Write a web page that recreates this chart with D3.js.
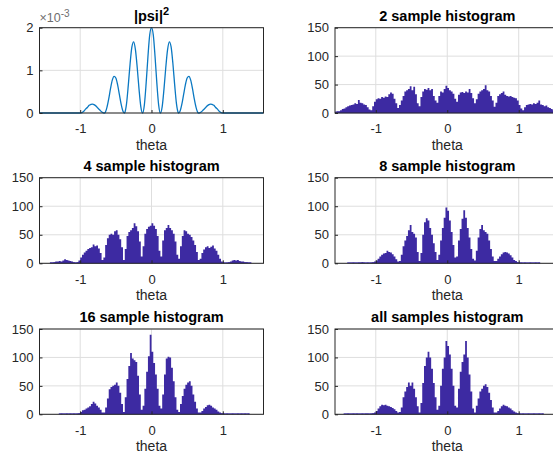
<!DOCTYPE html>
<html><head><meta charset="utf-8">
<script src="https://cdn.jsdelivr.net/npm/d3@7"></script>
<style>
html,body{margin:0;padding:0;background:#fff;}
svg{display:block;font-family:"Liberation Sans",Arial,Helvetica,sans-serif;}
</style></head>
<body><svg id="c" width="553" height="460"></svg>
<script>
// ---------- DATA ----------
const psiTheta = [-1.5708,-1.0,-0.975,-0.95,-0.925,-0.9,-0.875,-0.85,-0.825,-0.8,-0.775,-0.75,-0.725,-0.7,-0.675,-0.66,
  -0.65,-0.625,-0.6,-0.575,-0.55,-0.525,-0.5,-0.475,-0.45,-0.425,-0.4,-0.38,
  -0.375,-0.35,-0.325,-0.3,-0.275,-0.25,-0.225,-0.2,-0.175,-0.15,-0.125,
  -0.1,-0.075,-0.05,-0.025,0,0.025,0.05,0.075,0.1,0.125,
  0.15,0.175,0.2,0.225,0.25,0.275,0.3,0.325,0.35,0.375,0.38,
  0.4,0.425,0.45,0.475,0.5,0.525,0.55,0.575,0.6,0.625,0.65,0.66,
  0.675,0.7,0.725,0.75,0.775,0.8,0.825,0.85,0.875,0.9,0.925,0.95,0.975,1.0,1.5708];
const psiValue = [0,0,0.01,0.04,0.09,0.13,0.18,0.20,0.21,0.19,0.16,0.11,0.07,0.03,0.004,0,
  0.01,0.13,0.33,0.57,0.77,0.86,0.82,0.66,0.43,0.20,0.04,0,
  0.01,0.22,0.66,1.16,1.55,1.67,1.48,1.06,0.56,0.15,0,
  0.19,0.70,1.32,1.83,2.0,1.83,1.32,0.70,0.19,0,
  0.15,0.56,1.06,1.48,1.67,1.55,1.16,0.66,0.22,0.01,0,
  0.04,0.20,0.43,0.66,0.82,0.86,0.77,0.57,0.33,0.13,0.01,0,
  0.004,0.03,0.07,0.11,0.16,0.19,0.21,0.20,0.18,0.13,0.09,0.04,0.01,0,0]; // x 1e-3

const binWidth = 0.025;

const hist2Start = -1.575;
const hist2Counts = [2,3,3,5,7,8,10,12,13,14,15,17,16,23,18,17,15,14,10,6,
  5,12,20,24,26,25,28,27,29,28,33,36,34,25,17,9,
  14,22,30,38,40,42,47,40,46,33,17,
  12,28,38,42,41,44,40,42,30,22,
  18,30,38,36,42,48,44,40,38,34,25,
  20,32,36,37,35,38,36,42,35,26,17,
  24,34,38,40,42,49,40,38,30,22,11,
  18,30,33,35,38,32,30,29,30,28,27,26,22,14,8,5,
  10,14,15,16,15,17,16,18,22,15,14,12,13,10,9,7,5,3,2,2];

const hist4Start = -1.425;
const hist4Counts = [1,1,2,3,3,4,3,5,7,6,5,4,3,2,1,2,5,
  10,15,19,22,25,27,28,33,30,31,26,18,6,
  10,32,44,50,52,50,56,58,50,42,28,6,
  25,48,55,58,62,70,65,56,38,12,
  30,52,60,64,66,70,66,60,48,22,
  12,40,58,62,67,62,58,52,38,15,
  8,30,48,58,56,52,50,46,40,32,20,6,
  8,18,24,28,30,27,29,31,26,22,15,8,3,
  1,0,1,2,3,5,6,5,6,4,3,3,2,2,1,1];

const hist8Start = -1.4;
const hist8Counts = [0,0,0,1,0,0,1,1,2,1,0,1,0,1,2,3,
  5,8,12,15,17,18,22,20,19,16,12,7,3,
  4,15,30,40,48,58,67,55,52,45,20,4,
  18,50,72,79,75,62,50,35,20,6,
  15,40,62,80,98,92,75,55,32,10,
  12,40,60,78,93,80,62,45,25,8,
  5,22,45,60,67,58,55,52,40,25,12,4,
  4,8,12,16,19,20,19,17,14,10,6,4,2,
  1,1,0,1,0,0,1,0,0,1,0,1];

const hist16Start = -1.3;
const hist16Counts = [0,1,0,0,1,0,1,0,1,0,1,2,
  4,7,8,10,12,14,18,22,19,15,12,8,3,
  3,12,28,44,48,50,52,56,50,38,18,4,
  30,62,85,108,98,95,92,68,35,8,
  15,45,75,102,140,110,90,70,45,15,
  10,35,70,98,101,100,82,58,30,8,
  4,18,32,45,52,56,58,50,35,22,10,3,
  3,6,10,13,16,17,15,12,10,8,5,3,2,
  1,0,1,0,0,1,0,0,1,0,1,0,1,0,1];

const histAllStart = -1.45;
const histAllCounts = [0,0,1,0,0,1,0,1,0,0,1,0,1,1,0,1,2,3,
  6,10,14,17,16,17,15,14,13,11,9,6,3,
  4,12,30,40,48,56,50,56,45,30,14,3,
  20,55,85,100,110,100,80,55,30,8,
  15,50,80,100,129,120,105,80,50,15,
  12,45,75,92,105,129,100,70,40,10,
  3,15,28,40,45,50,53,48,38,25,12,3,
  3,6,10,14,17,15,14,12,10,7,5,3,2,
  1,0,1,0,0,1,0,0,1,0,0,1,0,1];

const xTicks = [-1, 0, 1];
const psiTicks = [0, 1, 2];
const histTicks = [0, 50, 100, 150];
const titles = ["|psi|", "2 sample histogram", "4 sample histogram", "8 sample histogram", "16 sample histogram", "all samples histogram"];
const xLabel = "theta";

// ---------- LAYOUT ----------
const svg = d3.select("#c");
const cols = [[39.5, 263.5], [335, 559.5]];
const rows = [[27.7, 113], [177.7, 263.3], [329, 414.3]];
const axisColor = "#262626", gridColor = "#dedede";
const histFill = "#3d2aa2", histBase = "#7f74d4", lineColor = "#0a78c2";

let clipId = 0;
function panel(col, row, yMax, yTicks, title) {
  const [x0, x1] = cols[col], [y0, y1] = rows[row];
  const x = d3.scaleLinear().domain([-Math.PI/2, Math.PI/2]).range([x0, x1]);
  const y = d3.scaleLinear().domain([0, yMax]).range([y1, y0]);
  const g = svg.append("g");
  g.selectAll(".gx").data(xTicks).join("line")
    .attr("x1", d => x(d)).attr("x2", d => x(d)).attr("y1", y0).attr("y2", y1)
    .attr("stroke", gridColor).attr("stroke-width", 1);
  g.selectAll(".gy").data(yTicks).join("line")
    .attr("x1", x0).attr("x2", x1).attr("y1", d => y(d)).attr("y2", d => y(d))
    .attr("stroke", gridColor).attr("stroke-width", 1);
  const id = "clip" + (clipId++);
  svg.append("clipPath").attr("id", id).append("rect")
    .attr("x", x0).attr("y", y0 - 1).attr("width", x1 - x0).attr("height", y1 - y0 + 2);
  const marks = svg.append("g").attr("clip-path", `url(#${id})`);
  const ax = svg.append("g");
  ax.append("g").attr("transform", `translate(0,${y1})`)
    .call(d3.axisBottom(x).tickValues(xTicks).tickSizeInner(-3).tickSizeOuter(0).tickPadding(8).tickFormat(d => String(d)))
    .call(s => { s.select(".domain").remove(); s.selectAll("line").attr("stroke", axisColor);
      s.selectAll("text").attr("font-size", 13).attr("fill", axisColor).attr("font-family", "Liberation Sans, Arial, sans-serif").attr("dy", "0.95em"); });
  ax.append("g").attr("transform", `translate(${x0},0)`)
    .call(d3.axisLeft(y).tickValues(yTicks).tickSizeInner(-3).tickSizeOuter(0).tickPadding(6).tickFormat(d3.format("d")))
    .call(s => { s.select(".domain").remove(); s.selectAll("line").attr("stroke", axisColor);
      s.selectAll("text").attr("font-size", 13).attr("fill", axisColor).attr("font-family", "Liberation Sans, Arial, sans-serif"); });
  ax.append("rect").attr("x", x0).attr("y", y0).attr("width", x1 - x0).attr("height", y1 - y0)
    .attr("fill", "none").attr("stroke", axisColor).attr("stroke-width", 1);
  ax.append("text").attr("x", x(0)).attr("y", y1 + 37).attr("text-anchor", "middle")
    .attr("font-size", 14).attr("fill", axisColor).text(xLabel);
  const t = ax.append("text").attr("x", x(0)).attr("y", y0 - 7).attr("text-anchor", "middle")
    .attr("font-size", 14.5).attr("font-weight", "bold").attr("fill", "#000").text(title);
  return {x, y, marks, ax, t, x0, x1, y0, y1};
}

function histogram(p, start, counts) {
  const pts = counts.map((c, i) => [start + i * binWidth, c]);
  pts.push([start + counts.length * binWidth, counts[counts.length - 1]]);
  p.marks.append("line")
    .attr("x1", p.x(start)).attr("x2", p.x(start + counts.length * binWidth))
    .attr("y1", p.y(0) - 0.5).attr("y2", p.y(0) - 0.5)
    .attr("stroke", histBase).attr("stroke-width", 1.5);
  p.marks.append("path").datum(pts)
    .attr("fill", histFill)
    .attr("d", d3.area().x(d => p.x(d[0])).y0(p.y(0)).y1(d => p.y(d[1])).curve(d3.curveStepAfter));
}

const p1 = panel(0, 0, 2, psiTicks, titles[0]);
p1.t.append("tspan").attr("dy", "-6").attr("font-size", 11).text("2");
p1.marks.append("path")
  .datum(psiTheta.map((t, i) => [t, psiValue[i]]))
  .attr("fill", "none").attr("stroke", lineColor).attr("stroke-width", 1.3)
  .attr("d", d3.line().x(d => p1.x(d[0])).y(d => p1.y(d[1])).curve(d3.curveMonotoneX));
const ex = p1.ax.append("text").attr("x", p1.x0).attr("y", 22).attr("font-size", 12.5).attr("fill", "#6e6e6e");
ex.append("tspan").text("\u00d710");
ex.append("tspan").attr("dy", "-5").attr("font-size", 10).text("-3");

const p2 = panel(1, 0, 150, histTicks, titles[1]); histogram(p2, hist2Start, hist2Counts);
const p3 = panel(0, 1, 150, histTicks, titles[2]); histogram(p3, hist4Start, hist4Counts);
const p4 = panel(1, 1, 150, histTicks, titles[3]); histogram(p4, hist8Start, hist8Counts);
const p5 = panel(0, 2, 150, histTicks, titles[4]); histogram(p5, hist16Start, hist16Counts);
const p6 = panel(1, 2, 150, histTicks, titles[5]); histogram(p6, histAllStart, histAllCounts);
</script></body></html>
